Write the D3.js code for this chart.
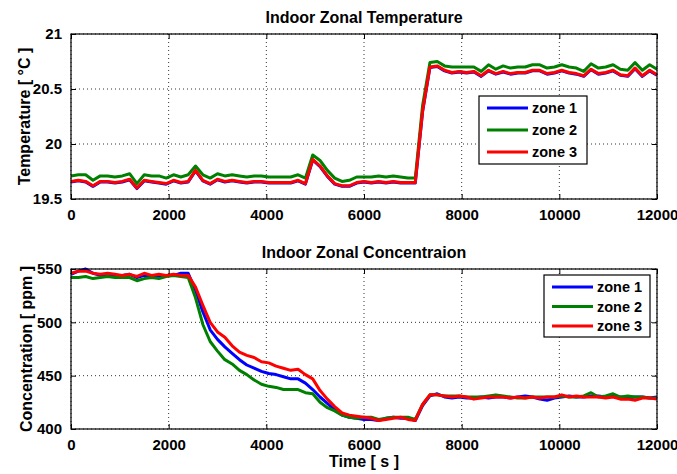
<!DOCTYPE html>
<html>
<head>
<meta charset="utf-8">
<script src="https://cdn.jsdelivr.net/npm/d3@7"></script>
<style>
  body { margin: 0; background: #fff; }
  text { font-family: "Liberation Sans", Arial, Helvetica, sans-serif; font-weight: bold; fill: #000; }
</style>
</head>
<body>
<div id="chart"></div>
<script>
var w = 677;
var h = 474;

// sample times [s], every 150 s
var times = d3.range(0, 12001, 150);

var zoneNames = ["zone 1", "zone 2", "zone 3"];
var zoneColors = ["#0000ff", "#008000", "#ff0000"];

// indoor zonal temperature [°C]
var tempZone1 = [19.655,19.665,19.655,19.615,19.655,19.655,19.645,19.655,19.675,19.595,
  19.665,19.655,19.645,19.635,19.665,19.645,19.655,19.755,19.665,19.635,
  19.675,19.655,19.665,19.655,19.645,19.655,19.655,19.645,19.645,19.645,
  19.645,19.665,19.635,19.855,19.795,19.705,19.635,19.615,19.615,19.645,
  19.655,19.645,19.655,19.645,19.655,19.645,19.645,19.645,20.295,20.695,
  20.705,20.665,20.645,20.655,20.645,20.655,20.615,20.665,20.635,20.655,
  20.635,20.645,20.645,20.665,20.665,20.635,20.645,20.665,20.645,20.635,
  20.615,20.675,20.635,20.645,20.665,20.625,20.615,20.685,20.615,20.665,20.625];
var tempZone2 = [19.71,19.72,19.72,19.67,19.71,19.71,19.70,19.71,19.73,19.64,
  19.72,19.71,19.71,19.69,19.72,19.70,19.72,19.80,19.72,19.69,
  19.73,19.71,19.72,19.71,19.70,19.71,19.71,19.70,19.70,19.70,
  19.70,19.72,19.69,19.90,19.85,19.76,19.69,19.66,19.67,19.70,
  19.70,19.70,19.71,19.70,19.71,19.70,19.69,19.69,20.35,20.74,
  20.75,20.71,20.70,20.70,20.70,20.70,20.66,20.72,20.68,20.71,
  20.69,20.70,20.70,20.72,20.72,20.69,20.70,20.72,20.70,20.69,
  20.66,20.73,20.69,20.70,20.72,20.68,20.67,20.74,20.67,20.72,20.68];
var tempZone3 = [19.66,19.67,19.66,19.62,19.66,19.66,19.65,19.66,19.68,19.60,
  19.67,19.66,19.65,19.64,19.67,19.65,19.66,19.76,19.67,19.64,
  19.68,19.66,19.67,19.66,19.65,19.66,19.66,19.65,19.65,19.65,
  19.65,19.67,19.64,19.86,19.80,19.71,19.64,19.62,19.62,19.65,
  19.66,19.65,19.66,19.65,19.66,19.65,19.65,19.65,20.30,20.70,
  20.71,20.67,20.65,20.66,20.65,20.66,20.62,20.67,20.64,20.66,
  20.64,20.65,20.65,20.67,20.67,20.64,20.65,20.67,20.65,20.64,
  20.62,20.68,20.64,20.65,20.67,20.63,20.62,20.69,20.62,20.67,20.63];

// indoor zonal CO2 concentration [ppm]
var concZone1 = [545,548,550,546,544,545,544,544,545,542,
  544,544,543,544,544,546,546,530,510,493,
  484,477,471,465,460,457,454,452,451,449,
  447,447,443,437,430,424,418,413,411,410,
  409,409,408,410,411,410,410,408,422,431,
  433,430,429,430,429,429,430,429,430,430,
  429,430,431,430,428,427,429,430,431,430,
  430,431,431,430,431,430,429,430,430,429,430];
var concZone2 = [542,542,543,541,542,543,542,542,542,539,
  541,542,541,543,544,543,542,523,498,482,
  473,465,461,455,451,446,442,440,439,437,
  437,437,434,433,425,420,417,413,411,410,
  411,411,409,410,411,411,411,409,423,432,
  432,431,431,431,430,430,430,431,432,431,
  430,429,429,430,430,430,430,431,430,430,
  431,434,430,431,433,430,431,430,430,429,429];
var concZone3 = [546,548,548,546,545,546,545,544,545,543,
  546,544,545,544,545,544,544,533,516,500,
  491,486,478,472,469,467,463,462,459,457,
  455,456,451,447,436,428,421,415,413,412,
  411,410,408,409,410,411,409,408,423,432,
  432,431,430,431,430,428,429,430,430,430,
  429,430,429,430,429,430,430,432,430,431,
  430,430,430,429,430,428,428,427,429,429,428];

var xTicks = [0, 2000, 4000, 6000, 8000, 10000, 12000];
var tempTicks = [19.5, 20, 20.5, 21];
var concTicks = [400, 450, 500, 550];

var svg = d3.select("#chart")
  .append("svg")
  .attr("width", w)
  .attr("height", h);

svg.append("rect").attr("width", w).attr("height", h).attr("fill", "#fff");

function drawPanel(p) {
  var x = d3.scaleLinear().domain([0, 12000]).range([71, 657]);
  var y = d3.scaleLinear().domain(p.domain).range([p.bottom, p.top]);
  var g = svg.append("g");

  // dotted grid
  g.selectAll(".gx").data(xTicks).enter().append("line")
    .attr("x1", d => x(d)).attr("x2", d => x(d))
    .attr("y1", p.top).attr("y2", p.bottom)
    .attr("stroke", "#333").attr("stroke-width", 1).attr("stroke-dasharray", "1,3");
  g.selectAll(".gy").data(p.ticks).enter().append("line")
    .attr("x1", 71).attr("x2", 657)
    .attr("y1", d => y(d)).attr("y2", d => y(d))
    .attr("stroke", "#333").attr("stroke-width", 1).attr("stroke-dasharray", "1,3");

  // series
  var line = d3.line().x((d, i) => x(times[i])).y(d => y(d));
  p.series.forEach(function (s, k) {
    g.append("path")
      .datum(s)
      .attr("fill", "none")
      .attr("stroke", zoneColors[k])
      .attr("stroke-width", 3)
      .attr("stroke-linejoin", "round")
      .attr("d", line);
  });

  // axes with inward ticks on all four sides
  var bottomAxis = d3.axisBottom(x).tickValues(xTicks).tickSize(-5).tickPadding(10).tickFormat(d3.format("d"));
  var leftAxis = d3.axisLeft(y).tickValues(p.ticks).tickSize(-5).tickPadding(9).tickFormat(d => d);
  var ax = g.append("g").attr("transform", "translate(0," + p.bottom + ")").call(bottomAxis);
  var ay = g.append("g").attr("transform", "translate(71,0)").call(leftAxis);
  var axT = g.append("g").attr("transform", "translate(0," + p.top + ")")
    .call(d3.axisTop(x).tickValues(xTicks).tickSize(-5).tickFormat(""));
  var ayR = g.append("g").attr("transform", "translate(657,0)")
    .call(d3.axisRight(y).tickValues(p.ticks).tickSize(-5).tickFormat(""));
  [ax, ay, axT, ayR].forEach(function (a) {
    a.select(".domain").remove();
    a.selectAll("line").attr("stroke", "#000");
    a.selectAll("text").style("font-size", "15px").style("font-family", "Liberation Sans, Arial, sans-serif").style("font-weight", "bold");
  });

  g.append("rect")
    .attr("x", 71).attr("y", p.top)
    .attr("width", 586).attr("height", p.bottom - p.top)
    .attr("fill", "none").attr("stroke", "#000").attr("stroke-width", 1.2);

  // title and y label
  g.append("text")
    .attr("x", 364).attr("y", p.top - 11)
    .attr("text-anchor", "middle")
    .style("font-size", "16px")
    .text(p.title);
  g.append("text")
    .attr("transform", "translate(" + p.ylabelX + "," + ((p.top + p.bottom) / 2) + ") rotate(-90)")
    .attr("text-anchor", "middle")
    .style("font-size", "16px")
    .text(p.ylabel);

  // legend
  var lg = g.append("g");
  var L = p.legend;
  lg.append("rect")
    .attr("x", L.x).attr("y", L.y).attr("width", L.w).attr("height", L.h)
    .attr("fill", "#fff").attr("stroke", "#000").attr("stroke-width", 1.2);
  zoneNames.forEach(function (name, k) {
    var cy = L.y + L.first + k * L.step;
    lg.append("line")
      .attr("x1", L.x + 8).attr("x2", L.x + 49)
      .attr("y1", cy).attr("y2", cy)
      .attr("stroke", zoneColors[k]).attr("stroke-width", 3);
    lg.append("text")
      .attr("x", L.x + 53).attr("y", cy + 5)
      .style("font-size", "14.5px")
      .text(name);
  });
}

drawPanel({
  top: 34, bottom: 199, domain: [19.5, 21], ticks: tempTicks,
  title: "Indoor Zonal Temperature", ylabel: "Temperature [ °C ]", ylabelX: 30,
  series: [tempZone1, tempZone2, tempZone3],
  legend: { x: 479, y: 96, w: 108, h: 68, first: 12, step: 22 }
});

drawPanel({
  top: 269, bottom: 429, domain: [400, 550], ticks: concTicks,
  title: "Indoor Zonal Concentraion", ylabel: "Concentration [ ppm ]", ylabelX: 32,
  series: [concZone1, concZone2, concZone3],
  legend: { x: 544, y: 275, w: 106, h: 62, first: 12, step: 19.5 }
});

svg.append("text")
  .attr("x", 364).attr("y", 467)
  .attr("text-anchor", "middle")
  .style("font-size", "16px")
  .text("Time [ s ]");
</script>
</body>
</html>
